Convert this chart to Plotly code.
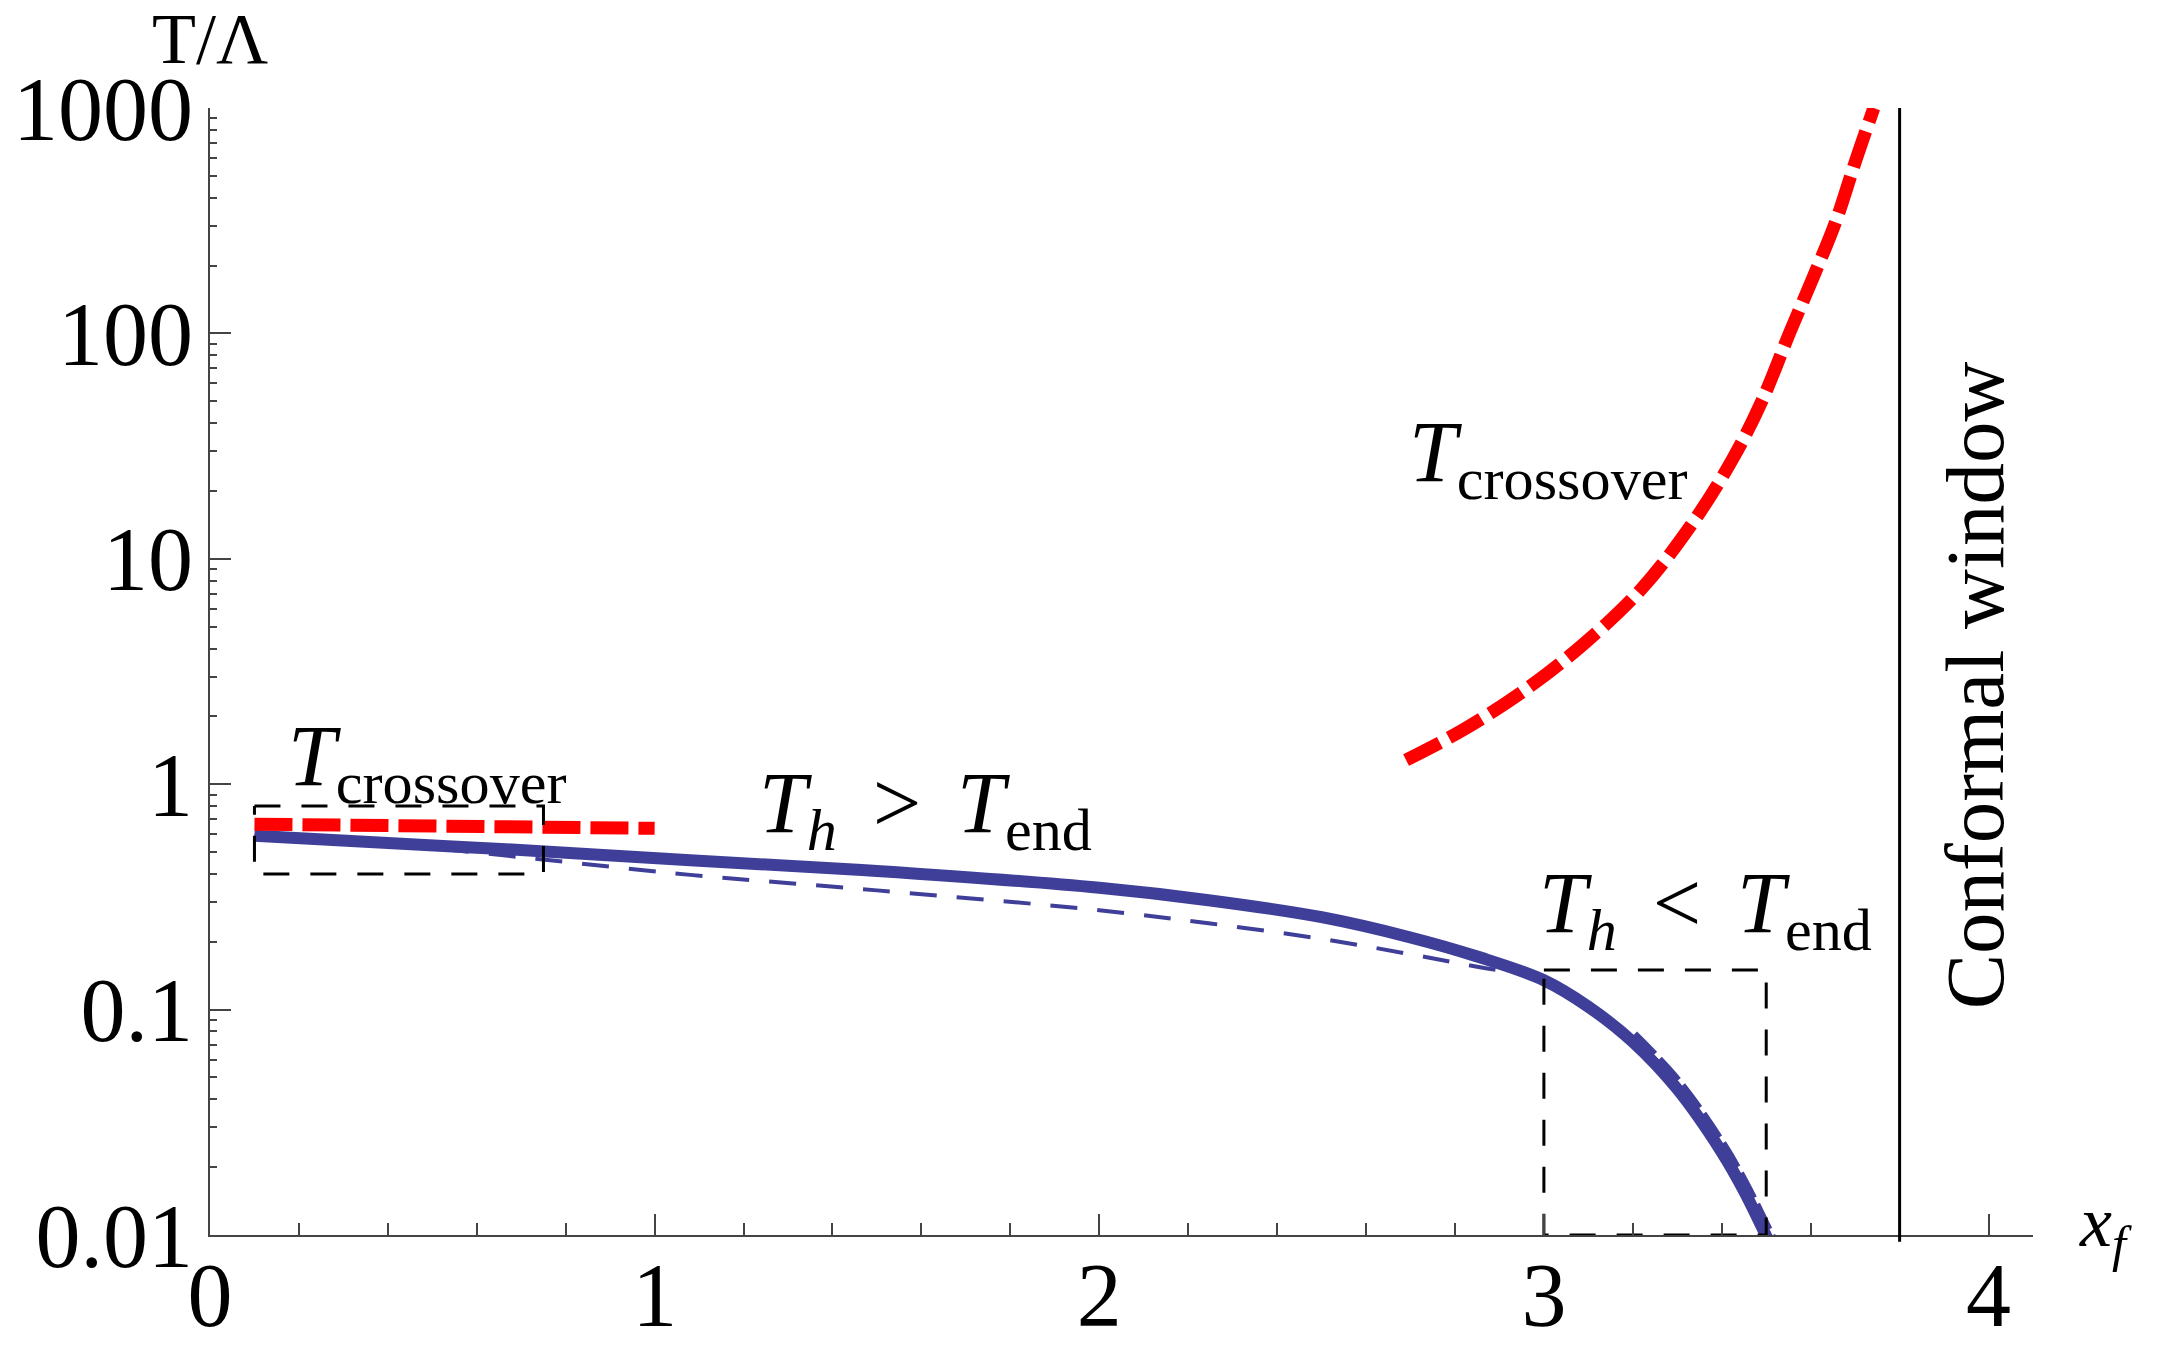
import numpy as np
import plotly.graph_objects as go

# ---- data (x_f, T/Lambda) ----
# T_h, full result (thick solid blue)
th_x = [0.1, 0.4, 0.6, 0.8, 1.08, 1.5, 2.0, 2.25, 2.5, 2.7, 2.85, 3.0, 3.1, 3.2, 3.3, 3.4, 3.45, 3.5, 3.53]
th_t = [0.59, 0.548, 0.523, 0.497, 0.46, 0.412, 0.347, 0.305, 0.257, 0.209, 0.172, 0.135,
        0.103, 0.0719, 0.0444, 0.0233, 0.0157, 0.0099, 0.0074]

# approximation (thin dashed blue)
approx_x = [0.1, 0.4, 0.6, 0.8, 1.08, 1.5, 2.0, 2.25, 2.5, 2.7, 2.85, 2.95]
approx_t = [0.59, 0.543, 0.497, 0.452, 0.396, 0.338, 0.276, 0.241, 0.206, 0.176, 0.155, 0.144]

# approximation near the end point (thick dashed blue)
approx_end_x = [3.2, 3.3, 3.4, 3.45, 3.5, 3.53]
approx_end_t = [0.0765, 0.0472, 0.0248, 0.0167, 0.0106, 0.0080]

# T_crossover, small x_f branch (red dashed)
cross_lo_x = [0.1, 0.55, 1.0]
cross_lo_t = [0.665, 0.651, 0.637]

# T_crossover, near the conformal window (red dashed)
cross_hi_x = [2.69, 2.82, 2.96, 3.09, 3.218, 3.33, 3.424, 3.49, 3.553, 3.61, 3.657, 3.70, 3.742]
cross_hi_t = [1.28, 1.75, 2.64, 4.2, 7.3, 14.0, 27.6, 50, 101, 186, 316, 575, 1000]

# zoom boxes (x range, T range)
box_small_x = [0.1, 0.75]
box_small_t = [0.4, 0.8]
box_large_x = [3.0, 3.5]
box_large_t = [0.01, 0.15]

conformal_x = 3.8

x_ticks = [0, 1, 2, 3, 4]
y_ticks = [0.01, 0.1, 1, 10, 100, 1000]
y_ticktext = ["0.01", "0.1", "1", "10", "100", "1000"]
y_minor = [m * 10.0 ** e for e in range(-2, 3) for m in range(2, 10)]

BLUE = "#3F3F99"
RED = "#FF0000"
AXIS = "#444444"
FONT = "Liberation Serif, Times New Roman, serif"
SP = " \u2006"  # a little wider than a plain space around the relation signs


def box_path(bx, bt):
    xs = [bx[0], bx[1], bx[1], bx[0], bx[0]]
    ts = [bt[1], bt[1], bt[0], bt[0], bt[1]]
    return xs, ts


fig = go.Figure()

fig.add_trace(go.Scatter(
    x=approx_x, y=approx_t, mode="lines", line_shape="spline",
    line=dict(color=BLUE, width=4, dash="27px,20px"), showlegend=False,
))
fig.add_trace(go.Scatter(
    x=th_x, y=th_t, mode="lines", line_shape="spline",
    line=dict(color=BLUE, width=12), showlegend=False,
))
fig.add_trace(go.Scatter(
    x=approx_end_x, y=approx_end_t, mode="lines", line_shape="spline",
    line=dict(color=BLUE, width=12, dash="28px,7px"), showlegend=False,
))
fig.add_trace(go.Scatter(
    x=cross_lo_x, y=cross_lo_t, mode="lines",
    line=dict(color=RED, width=13, dash="38px,10px"), showlegend=False,
))
fig.add_trace(go.Scatter(
    x=cross_hi_x, y=cross_hi_t, mode="lines", line_shape="spline",
    line=dict(color=RED, width=13, dash="38px,10px"), showlegend=False,
))

for bx, bt in [(box_small_x, box_small_t), (box_large_x, box_large_t)]:
    xs, ts = box_path(bx, bt)
    fig.add_trace(go.Scatter(
        x=xs, y=ts, mode="lines",
        line=dict(color="black", width=3, dash="26px,21px"), showlegend=False,
    ))

# boundary of the conformal window
fig.add_shape(type="line", xref="x", yref="paper", x0=conformal_x, x1=conformal_x,
              y0=-0.006, y1=1, line=dict(color="black", width=3))

notes = [
    (0.487, 1.25, "<i>T</i><sub>crossover</sub>", 0, 86),
    (3.009, 28, "<i>T</i><sub>crossover</sub>", 0, 86),
    (1.61, 0.78, "<i>T</i><sub><i>h</i></sub>" + SP + ">" + SP + "<i>T</i><sub>end</sub>", 0, 86),
    (3.363, 0.28, "<i>T</i><sub><i>h</i></sub>" + SP + "<" + SP + "<i>T</i><sub>end</sub>", 0, 86),
    (3.97, 2.75, "Conformal window", -90, 83),
]
for x, t, txt, ang, size in notes:
    fig.add_annotation(x=x, y=np.log10(t), xref="x", yref="y", text=txt,
                       showarrow=False, textangle=ang,
                       font=dict(family=FONT, size=size, color="black"))

# axis labels
fig.add_annotation(xref="paper", yref="paper", x=0, y=1, xanchor="center", yanchor="bottom",
                   yshift=27, text="T/Λ", showarrow=False,
                   font=dict(family=FONT, size=72, color="black"))
fig.add_annotation(xref="paper", yref="paper", x=1, y=0, xanchor="left", yanchor="middle",
                   xshift=44, yshift=8,
                   text="<i>x</i><sub><i>f</i></sub>", showarrow=False,
                   font=dict(family=FONT, size=72, color="black"))

# the page body adds an 8px margin, so the figure is 8px smaller on each side it pushes
fig.update_layout(
    width=2152,
    height=1347,
    margin=dict(l=202, r=127, t=100, b=120),
    plot_bgcolor="white",
    paper_bgcolor="white",
    font=dict(family=FONT, color="black"),
    xaxis=dict(
        range=[0, 4.1], showgrid=False, zeroline=False, automargin=False,
        showline=True, linecolor=AXIS, linewidth=2,
        tickvals=x_ticks, ticks="inside", ticklen=21, tickwidth=2, tickcolor=AXIS,
        tickfont=dict(family=FONT, size=90, color="black"),
        ticklabelstandoff=-19,
        minor=dict(dtick=0.2, ticks="inside", ticklen=12, tickwidth=2, tickcolor=AXIS),
    ),
    yaxis=dict(
        type="log", range=[-2, 3], showgrid=False, zeroline=False, automargin=False,
        showline=True, linecolor=AXIS, linewidth=2,
        tickvals=y_ticks, ticktext=y_ticktext,
        ticks="inside", ticklen=21, tickwidth=2, tickcolor=AXIS,
        tickfont=dict(family=FONT, size=90, color="black"),
        ticklabelstandoff=-3,
        minor=dict(tickmode="array", tickvals=y_minor, ticks="inside", ticklen=7,
                   tickwidth=2, tickcolor=AXIS),
    ),
)

fig.write_html("out.html")
